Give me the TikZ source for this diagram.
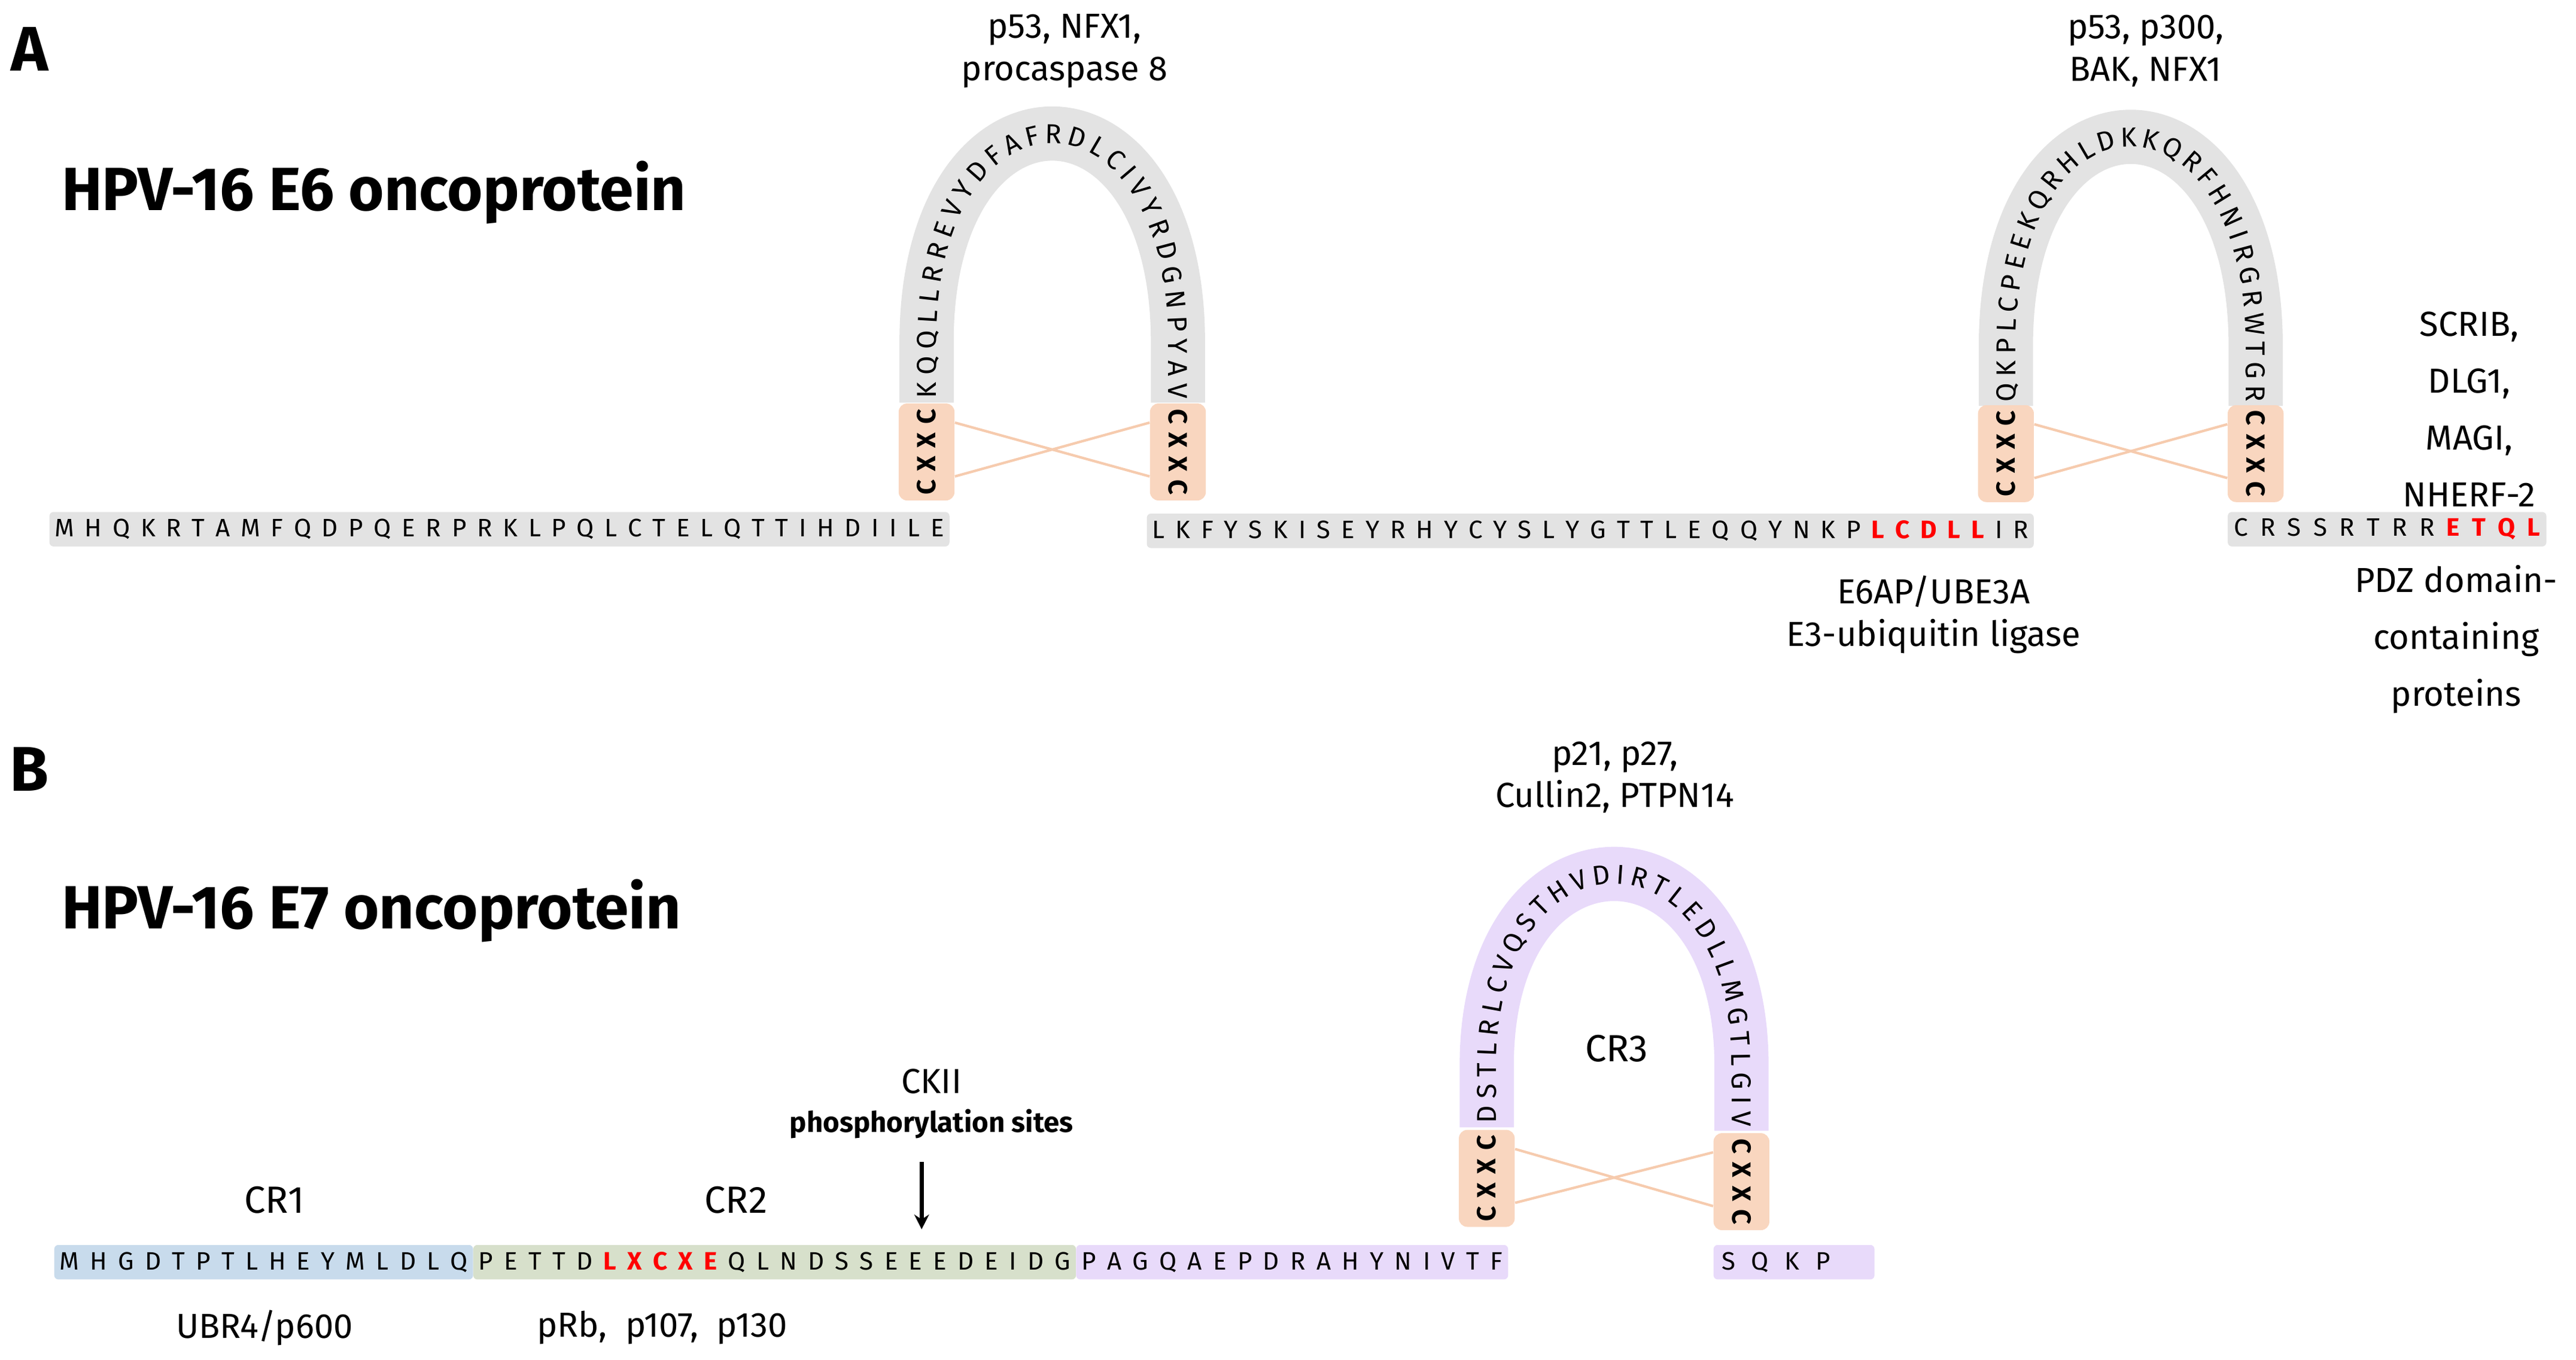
\documentclass[tikz,border=0pt]{standalone}
\usepackage{fontspec}
\setmainfont{Fira Sans}
\usetikzlibrary{decorations.text,arrows.meta,calc}

\newlength\du
\setlength\du{0.2746mm}
\definecolor{bandgray}{HTML}{E3E3E3}
\definecolor{peach}{HTML}{F9D6BF}
\definecolor{peachline}{HTML}{F6CBAE}
\definecolor{crblue}{HTML}{C8DBEC}
\definecolor{crgreen}{HTML}{D7E0CB}
\definecolor{crpurple}{HTML}{E8DAFA}
\definecolor{seqred}{HTML}{FF0000}

\makeatletter
\def\seqsp#1#2{\makebox[#1\du][s]{\seq@#2\@nil}}
\def\seq@#1{\ifx#1\@nil\else\ifx#1*\color{seqred}\bfseries\else\ifx#1+\color{black}\mdseries\else\hfil#1\hfil\fi\fi\expandafter\seq@\fi}
\makeatother
\newcommand\cxxctext{C\hspace{4pt}X\hspace{4pt}X\hspace{4pt}C}

\tikzset{
  seqfont/.style={font=\fontsize{12}{14}\selectfont},
  lab/.style={font=\fontsize{16.5}{20}\selectfont, align=center, inner sep=0},
  bar/.style={seqfont, fill=#1, inner sep=0, minimum height=21\du, rounded corners=2pt},
  cxxc/.style={font=\fontsize{12.5}{14}\selectfont\bfseries, fill=peach, inner sep=0,
    minimum width=59\du, minimum height=34\du, rounded corners=4pt},
  band/.style={draw=#1, line width=33\du, line cap=butt},
  arctext/.style={postaction={decorate, decoration={text along path,
    text={|\fontsize{13}{15}\selectfont|#1}, raise=-4.6pt,
    text align={fit to path, left indent=2pt, right indent=2pt}}}},
  link/.style={draw=peachline, line width=1.2pt}
}

\begin{document}
\begin{tikzpicture}[x=0.02746cm, y=-0.02746cm]
\useasboundingbox (0,0) rectangle (1568,827.4);

% panel letters and titles
\node[font=\fontsize{30}{30}\selectfont\bfseries] (pA) at (18,30) {A};
\node[font=\fontsize{30}{30}\selectfont\bfseries] (pB) at (18,468) {B};
\node[anchor=west, font=\fontsize{29}{30}\selectfont\bfseries] (tA) at (33,117) {HPV-16 E6 oncoprotein};
\node[anchor=west, font=\fontsize{29}{30}\selectfont\bfseries] (tB) at (33,554) {HPV-16 E7 oncoprotein};

% --- E6 ---
\draw[band=bandgray, arctext={KQQLLRREVYDFAFRDLCIVYRDGNPYAV}]
  (564,245) -- (564,205) .. controls (566,40) and (715,40) .. (717,205) -- (717,245);
\draw[band=bandgray, arctext={QKPLCPEEKQRHLDKKQRFHNIRGRWTGR}]
  (1221,247) -- (1221,207) .. controls (1223,42) and (1371,42) .. (1373,207) -- (1373,247);

\node[cxxc, rotate=90] (b1) at (564,275) {\cxxctext};
\node[cxxc, rotate=-90] (b2) at (717,275) {\cxxctext};
\node[cxxc, rotate=90] (b3) at (1221,276) {\cxxctext};
\node[cxxc, rotate=-90] (b4) at (1373,276) {\cxxctext};

\draw[link] ($(b1.south east)!0.2!(b1.south west)$) -- ($(b2.south west)!0.75!(b2.south east)$);
\draw[link] ($(b1.south east)!0.75!(b1.south west)$) -- ($(b2.south west)!0.2!(b2.south east)$);
\draw[link] ($(b3.south east)!0.2!(b3.south west)$) -- ($(b4.south west)!0.75!(b4.south east)$);
\draw[link] ($(b3.south east)!0.75!(b3.south west)$) -- ($(b4.south west)!0.2!(b4.south east)$);

\node[bar=bandgray] (s1) at (304,322) {\seqsp{548}{MHQKRTAMFQDPQERPRKLPQLCTELQTTIHDIILE}};
\node[bar=bandgray] (s2) at (968,323) {\seqsp{540}{LKFYSKISEYRHYCYSLYGTTLEQQYNKP*LCDLL+IR}};
\node[bar=bandgray] (s3) at (1453,322) {\seqsp{194}{CRSSRTRR*ETQL}};

\node[lab] (l1) at (648,31) {p53, NFX1,\\procaspase 8};
\node[lab] (l2) at (1306,31) {p53, p300,\\BAK, NFX1};
\node[lab, font=\fontsize{16.5}{27}\selectfont] (l3) at (1503,249) {SCRIB,\\DLG1,\\MAGI,\\NHERF-2};
\node[lab] (l4) at (1177,374) {E6AP/UBE3A\\E3-ubiquitin ligase};
\node[lab, font=\fontsize{16.5}{27}\selectfont] (l5) at (1495,389) {PDZ domain-\\containing\\proteins};

% --- E7 ---
\draw[band=crpurple, arctext={DSTLRLCVQSTHVDIRTLEDLLMGTLGIV}]
  (905,686) -- (905,645) .. controls (907,494) and (1058,494) .. (1060,645) -- (1060,688);

\node[cxxc, rotate=90] (b5) at (905,717) {\cxxctext};
\node[cxxc, rotate=-90] (b6) at (1060,719) {\cxxctext};
\draw[link] ($(b5.south east)!0.2!(b5.south west)$) -- ($(b6.south west)!0.75!(b6.south east)$);
\draw[link] ($(b5.south east)!0.75!(b5.south west)$) -- ($(b6.south west)!0.2!(b6.south east)$);

\node[bar=crblue] (c1) at (160.5,768) {\seqsp{255}{MHGDTPTLHEYMLDLQ}};
\node[bar=crgreen] (c2) at (471.5,768) {\seqsp{367}{PETTD*LXCXE+QLNDSSEEEDEIDG}};
\node[bar=crpurple] (c3) at (786.5,768) {\seqsp{263}{PAGQAEPDRAHYNIVTF}};
\node[bar=crpurple] (c4) at (1092,768) {\makebox[98\du][l]{\seqsp{76}{SQKP}}};

\node[lab, font=\fontsize{18}{20}\selectfont] (cr1) at (167,730) {CR1};
\node[lab, font=\fontsize{18}{20}\selectfont] (cr2) at (448,730) {CR2};
\node[lab, font=\fontsize{18}{20}\selectfont] (cr3) at (984,638) {CR3};
\node[lab] (l6) at (983,473) {p21, p27,\\Cullin2, PTPN14};
\node[lab] (l7) at (161,808) {UBR4/p600};
\node[lab] (l8) at (403,808) {pRb, \ p107, \ p130};
\node[lab] (ck) at (567,658) {CKII};
\node[lab, font=\fontsize{13.5}{16}\selectfont\bfseries] (ph) at (567,684) {phosphorylation sites};

\coordinate (tip) at (561,748);
\draw[-{Stealth[length=7pt,width=7pt]}, line width=2pt] (561,707) -- (tip);

\end{tikzpicture}
\end{document}
